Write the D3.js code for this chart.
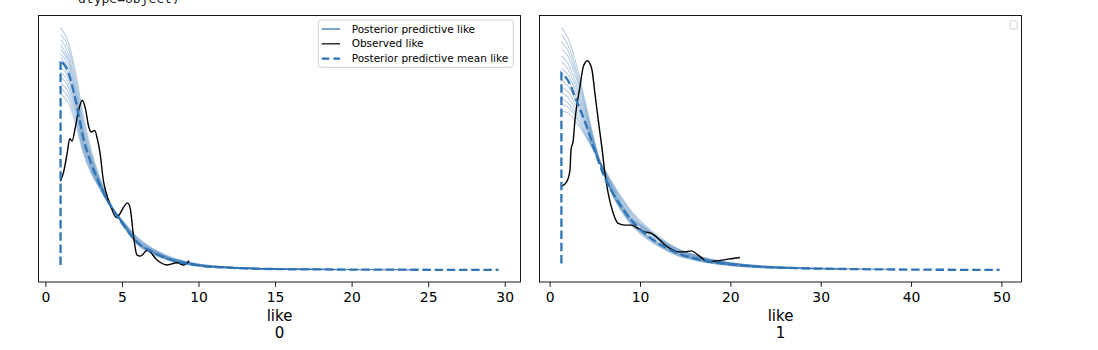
<!DOCTYPE html>
<html>
<head>
<meta charset="utf-8">
<script src="https://cdn.jsdelivr.net/npm/d3@7"></script>
<style>
  body { margin: 0; background: #fff; }
  svg { display: block; font-family: "DejaVu Sans", sans-serif; }
</style>
</head>
<body>
<div class="chart"></div>
<script>
// text left over from the notebook cell above the figure
const headerText = "dtype=object)";
const xLabel = "like";
const panelNames = ["0", "1"];
const legendLabels = ["Posterior predictive like", "Observed like", "Posterior predictive mean like"];

/* ---------- panel "0" ---------- */
const ticks0 = [0, 5, 10, 15, 20, 25, 30];
const gridX0 = [0.99, 1.5, 2, 2.5, 3, 3.5, 4, 5, 6, 7, 8, 10, 12, 15, 19, 24];
const ppSamples0 = [
    [0.325, 0.305, 0.262, 0.205, 0.160, 0.127, 0.100, 0.062, 0.034, 0.021, 0.013, 0.005, 0.0025, 0.001, 0.0005],
    [0.316, 0.298, 0.255, 0.198, 0.156, 0.124, 0.099, 0.062, 0.035, 0.022, 0.014, 0.0055, 0.0027, 0.0011, 0.0005, 0.0002],
    [0.309, 0.290, 0.247, 0.192, 0.153, 0.122, 0.098, 0.063, 0.036, 0.023, 0.014, 0.0058, 0.0028, 0.0011],
    [0.302, 0.284, 0.242, 0.188, 0.150, 0.121, 0.097, 0.063, 0.036, 0.023, 0.0145, 0.006, 0.0029, 0.0012, 0.0006],
    [0.296, 0.279, 0.237, 0.184, 0.148, 0.120, 0.097, 0.064, 0.037, 0.024, 0.015, 0.006, 0.004, 0.0012, 0.0006, 0.0003],
    [0.290, 0.273, 0.232, 0.180, 0.146, 0.119, 0.096, 0.064, 0.037, 0.024, 0.015, 0.0062, 0.003, 0.0013],
    [0.285, 0.268, 0.228, 0.177, 0.144, 0.118, 0.096, 0.064, 0.038, 0.024, 0.0155, 0.0063, 0.0031, 0.0013, 0.0006],
    [0.279, 0.262, 0.223, 0.173, 0.141, 0.117, 0.095, 0.064, 0.038, 0.025, 0.016, 0.0065, 0.0032, 0.0013, 0.0006],
    [0.273, 0.257, 0.219, 0.170, 0.139, 0.116, 0.095, 0.065, 0.039, 0.025, 0.016, 0.0067, 0.0033, 0.0014, 0.0007, 0.0003],
    [0.266, 0.251, 0.214, 0.167, 0.137, 0.115, 0.095, 0.065, 0.040, 0.026, 0.0165, 0.007, 0.0034, 0.0014],
    [0.259, 0.245, 0.209, 0.164, 0.135, 0.114, 0.094, 0.066, 0.041, 0.027, 0.017, 0.0072, 0.0035, 0.0015, 0.0007],
    [0.251, 0.238, 0.204, 0.161, 0.133, 0.113, 0.094, 0.066, 0.042, 0.027, 0.0175, 0.0075, 0.0036, 0.0015, 0.0007],
    [0.243, 0.231, 0.199, 0.158, 0.131, 0.112, 0.094, 0.067, 0.043, 0.028, 0.018, 0.0078, 0.0038, 0.0016],
    [0.236, 0.224, 0.194, 0.155, 0.129, 0.111, 0.093, 0.067, 0.044, 0.029, 0.019, 0.008, 0.004, 0.0016, 0.0008, 0.0003]
];
const meanX0 = [0.99, 0.99, 1.5, 2, 2.5, 3, 3.5, 4, 4.5, 5, 6, 7, 8, 10, 12, 15, 19, 24, 29.6];
const meanY0 = [0.0065, 0.281, 0.265, 0.225, 0.175, 0.142, 0.117, 0.095, 0.078, 0.063, 0.037, 0.024, 0.015, 0.006, 0.003, 0.0012, 0.0006, 0.0003, 0.0001];
const obsX0 = [0.98, 1.19, 1.42, 1.59, 1.74, 1.96, 2.17, 2.41, 2.61, 2.83, 2.98, 3.22, 3.41, 3.56, 3.80, 3.95, 4.24, 4.63, 5.37, 5.54, 5.76, 5.98, 6.20, 6.67, 7.29, 7.94, 8.59, 9.02, 9.39];
const obsY0 = [0.119, 0.1315, 0.1565, 0.176, 0.173, 0.192, 0.214, 0.2275, 0.2167, 0.192, 0.185, 0.187, 0.174, 0.158, 0.118, 0.105, 0.087, 0.0704, 0.090, 0.0825, 0.0445, 0.020, 0.0186, 0.0266, 0.0133, 0.0066, 0.0096, 0.0066, 0.0123];

/* ---------- panel "1" ---------- */
const ticks1 = [0, 10, 20, 30, 40, 50];
const gridX1 = [1.3, 2, 3, 4, 5, 6, 7, 8, 9, 10.5, 12, 14, 16, 18, 20, 23, 27, 32, 38];
const ppSamples1 = [
    [0.171, 0.164, 0.144, 0.117, 0.090, 0.068, 0.052, 0.041, 0.032, 0.023, 0.017, 0.0105, 0.007, 0.0046, 0.0031, 0.0018, 0.001],
    [0.166, 0.159, 0.140, 0.115, 0.089, 0.068, 0.053, 0.042, 0.033, 0.024, 0.0175, 0.011, 0.0073, 0.0048, 0.0033, 0.0019, 0.0011, 0.0006],
    [0.161, 0.155, 0.137, 0.113, 0.088, 0.068, 0.053, 0.042, 0.0335, 0.0245, 0.018, 0.0114, 0.0076, 0.005, 0.0035, 0.002, 0.0012],
    [0.156, 0.151, 0.134, 0.111, 0.087, 0.068, 0.054, 0.043, 0.034, 0.025, 0.0185, 0.0118, 0.0079, 0.0053, 0.0037, 0.0021, 0.0012, 0.0007, 0.0004],
    [0.151, 0.146, 0.130, 0.109, 0.086, 0.068, 0.054, 0.0435, 0.0345, 0.0255, 0.019, 0.0122, 0.0082, 0.0056, 0.0039, 0.0023, 0.0013],
    [0.147, 0.142, 0.127, 0.107, 0.085, 0.068, 0.055, 0.044, 0.035, 0.026, 0.0195, 0.0125, 0.0085, 0.0058, 0.0041, 0.0024, 0.0014, 0.0008],
    [0.142, 0.138, 0.124, 0.105, 0.085, 0.068, 0.055, 0.045, 0.036, 0.029, 0.023, 0.013, 0.0088, 0.006, 0.0043, 0.0025],
    [0.138, 0.134, 0.121, 0.103, 0.084, 0.069, 0.056, 0.0455, 0.0365, 0.0275, 0.0205, 0.0134, 0.009, 0.0062, 0.0044, 0.0026, 0.0015, 0.0008, 0.0004],
    [0.134, 0.130, 0.118, 0.102, 0.084, 0.069, 0.057, 0.046, 0.037, 0.030, 0.022, 0.0138, 0.0093, 0.0064, 0.0045, 0.0027, 0.0016],
    [0.129, 0.126, 0.115, 0.100, 0.084, 0.070, 0.058, 0.047, 0.038, 0.0285, 0.0215, 0.0142, 0.0096, 0.0066, 0.0047, 0.0028, 0.0016, 0.0009],
    [0.125, 0.122, 0.112, 0.098, 0.083, 0.070, 0.058, 0.048, 0.039, 0.029, 0.022, 0.0146, 0.0099, 0.0068, 0.0048, 0.0029],
    [0.121, 0.118, 0.109, 0.096, 0.083, 0.071, 0.059, 0.049, 0.040, 0.030, 0.0225, 0.015, 0.0102, 0.007, 0.005, 0.003, 0.0017],
    [0.117, 0.115, 0.107, 0.095, 0.083, 0.071, 0.060, 0.050, 0.041, 0.031, 0.023, 0.0154, 0.0105, 0.0072, 0.0051, 0.0031, 0.0018, 0.001],
    [0.112, 0.111, 0.104, 0.094, 0.083, 0.072, 0.061, 0.051, 0.042, 0.032, 0.024, 0.0158, 0.0108, 0.0075, 0.0053, 0.0032, 0.0019, 0.001, 0.0005]
];
const meanX1 = [1.3, 1.3, 2, 3, 4, 5, 6, 7, 8, 9, 10.5, 12, 14, 16, 18, 20, 23, 28, 33, 40, 49.8];
const meanY1 = [0.0046, 0.1388, 0.134, 0.119, 0.103, 0.084, 0.0666, 0.0543, 0.044, 0.0355, 0.026, 0.019, 0.0122, 0.0082, 0.0056, 0.004, 0.0024, 0.0012, 0.0007, 0.0003, 0.0001];
const obsX1 = [1.33, 1.88, 2.25, 2.36, 2.61, 2.80, 3.35, 3.72, 4.16, 4.65, 5.01, 5.38, 5.79, 6.12, 6.48, 7.04, 7.59, 8.33, 9.07, 9.80, 10.54, 11.28, 12.01, 12.76, 13.50, 14.23, 14.97, 15.71, 16.44, 17.55, 18.65, 19.76, 21.05];
const obsY1 = [0.0592, 0.0622, 0.0705, 0.0846, 0.0916, 0.1057, 0.1292, 0.1433, 0.1476, 0.1422, 0.1246, 0.1057, 0.086, 0.0681, 0.054, 0.0399, 0.0329, 0.0317, 0.0317, 0.0293, 0.0269, 0.0258, 0.0223, 0.0176, 0.0145, 0.0128, 0.0128, 0.0135, 0.0105, 0.0058, 0.0065, 0.0077, 0.0089];

const panels = [
    { name: panelNames[0], left: 38.5, ticks: ticks0, gridX: gridX0, samples: ppSamples0, meanX: meanX0, meanY: meanY0, obsX: obsX0, obsY: obsY0, legend: true },
    { name: panelNames[1], left: 539.5, ticks: ticks1, gridX: gridX1, samples: ppSamples1, meanX: meanX1, meanY: meanY1, obsX: obsX1, obsY: obsY1, legend: false }
];

const width = 1098, height = 350;
const marginTop = 15.5, pw = 482, ph = 266.5;

const ppColor = '#2b6cb0';
const meanColor = '#2f74b5';

const svg = d3.select('.chart').append('svg')
    .attr('width', width)
    .attr('height', height);

svg.append('text')
    .attr('x', 78)
    .attr('y', 3)
    .style('font-family', '"DejaVu Sans Mono", monospace')
    .style('font-size', '13px')
    .attr('fill', '#222')
    .text(headerText);

panels.forEach(p => {
    const g = svg.append('g').attr('transform', `translate(${p.left},${marginTop})`);

    // matplotlib style 5% margins around the data
    const allX = p.gridX.concat(p.meanX, p.obsX);
    const allY = p.samples.flat().concat(p.meanY, p.obsY);
    const [xa, xb] = d3.extent(allX);
    const [ya, yb] = d3.extent(allY);
    const padX = (xb - xa) * 0.05, padY = (yb - ya) * 0.05;

    const xScale = d3.scaleLinear().domain([xa - padX, xb + padX]).range([0, pw]);
    const yScale = d3.scaleLinear().domain([ya - padY, yb + padY]).range([ph, 0]);

    const line = d3.line()
        .x(d => xScale(d[0]))
        .y(d => yScale(d[1]))
        .curve(d3.curveMonotoneX);

    /* posterior predictive draws */
    g.append('g').selectAll('path')
        .data(p.samples).enter()
        .append('path')
        .attr('d', s => line(s.map((v, i) => [p.gridX[i], v])))
        .attr('fill', 'none')
        .attr('stroke', ppColor)
        .attr('stroke-opacity', 0.33)
        .attr('stroke-width', 1.1);

    /* observed */
    g.append('path')
        .attr('d', line(p.obsX.map((x, i) => [x, p.obsY[i]])))
        .attr('fill', 'none')
        .attr('stroke', '#000')
        .attr('stroke-width', 1.4);

    /* mean: straight drop at the lower bound, then the curve */
    const meanPts = p.meanX.map((x, i) => [x, p.meanY[i]]);
    const meanPath = `M${xScale(meanPts[0][0])},${yScale(meanPts[0][1])}` +
        line(meanPts.slice(1)).replace(/^M/, 'L');
    g.append('path')
        .attr('d', meanPath)
        .attr('fill', 'none')
        .attr('stroke', meanColor)
        .attr('stroke-width', 2.3)
        .attr('stroke-dasharray', '8.5,3.7');

    /* axis */
    const xAxis = d3.axisBottom(xScale).tickValues(p.ticks).tickSize(4.9).tickPadding(4.9);
    const ax = g.append('g')
        .attr('transform', `translate(0,${ph})`)
        .call(xAxis);
    ax.select('.domain').remove();
    ax.selectAll('line').attr('stroke', '#000').attr('stroke-width', 0.9);
    ax.selectAll('text')
        .attr('fill', '#000')
        .style('font-family', '"DejaVu Sans", sans-serif')
        .style('font-size', '13.9px');

    g.append('rect')
        .attr('width', pw)
        .attr('height', ph)
        .attr('fill', 'none')
        .attr('stroke', '#000')
        .attr('stroke-width', 0.9);

    const lab = g.append('text')
        .attr('text-anchor', 'middle')
        .attr('fill', '#000')
        .style('font-size', '15px');
    lab.append('tspan').attr('x', pw / 2).attr('y', 320.5 - marginTop).text(xLabel);
    lab.append('tspan').attr('x', pw / 2).attr('y', 337.5 - marginTop).text(p.name);

    /* legend */
    if (p.legend) {
        const lg = g.append('g').attr('transform', `translate(${318.3 - p.left},${20 - marginTop})`);
        lg.append('rect')
            .attr('width', 195)
            .attr('height', 47.3)
            .attr('rx', 2.5)
            .attr('fill', '#fff')
            .attr('fill-opacity', 0.8)
            .attr('stroke', '#cccccc')
            .attr('stroke-width', 0.9);
        const styles = [
            { color: '#5a8cc4', width: 1.6, dash: null },
            { color: '#222', width: 1.4, dash: null },
            { color: meanColor, width: 2.3, dash: '7.7,4' }
        ];
        legendLabels.forEach((txt, i) => {
            const cy = 9 + i * 14.8;
            lg.append('line')
                .attr('x1', 3.4).attr('x2', 21.7)
                .attr('y1', cy).attr('y2', cy)
                .attr('stroke', styles[i].color)
                .attr('stroke-width', styles[i].width)
                .attr('stroke-dasharray', styles[i].dash);
            lg.append('text')
                .attr('x', 33.4)
                .attr('y', cy)
                .attr('dy', '0.35em')
                .attr('fill', '#000')
                .style('font-size', '10.5px')
                .text(txt);
        });
    } else {
        g.append('rect')
            .attr('x', 1010 - p.left)
            .attr('y', 21 - marginTop)
            .attr('width', 7.3)
            .attr('height', 8)
            .attr('rx', 1.5)
            .attr('fill', '#fff')
            .attr('stroke', '#cccccc')
            .attr('stroke-width', 0.9);
    }
});
</script>
</body>
</html>
